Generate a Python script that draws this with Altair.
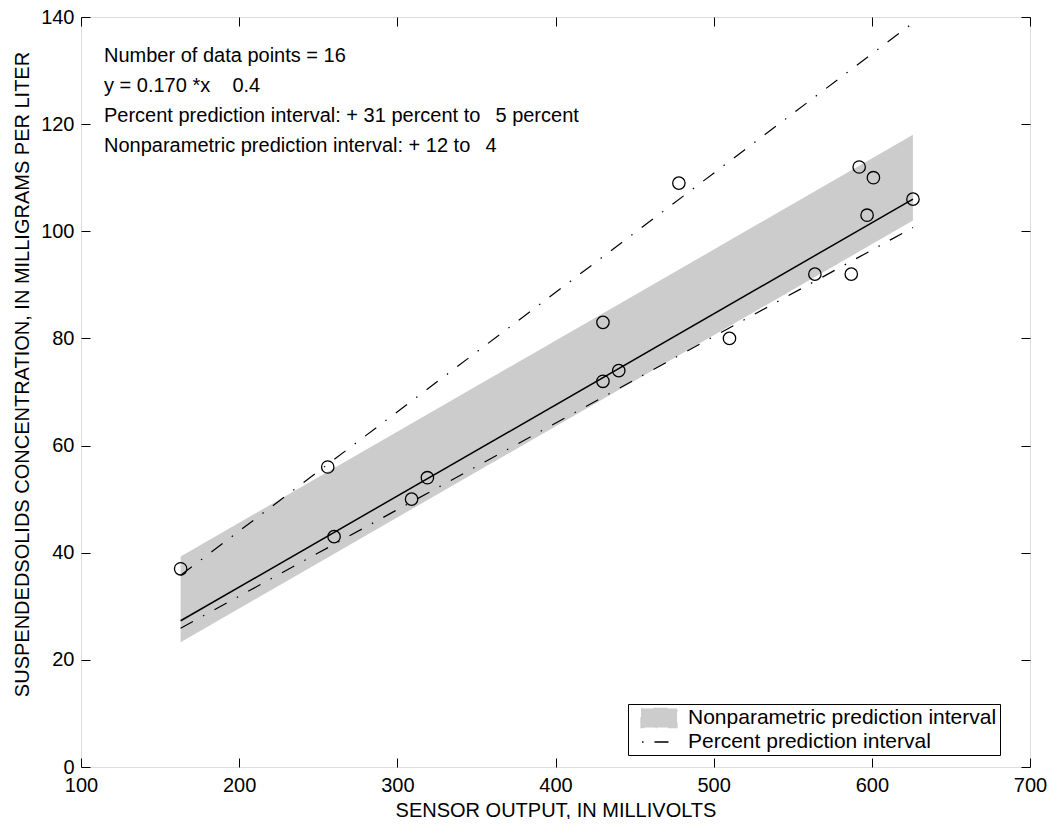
import altair as alt
import pandas as pd

# ---------------- data ----------------
sensor_mv = [163, 256, 260, 309, 319, 430, 430, 440, 478, 510, 564, 587, 592, 597, 601, 626]
ssc_mgl = [37, 56, 43, 50, 54, 83, 72, 74, 109, 80, 92, 92, 112, 103, 110, 106]

line_x = [163, 626]
fit_y = [27.3, 106.0]
pct_upper_y = [35.8, 138.9]
pct_lower_y = [25.9, 100.7]
np_upper_y = [39.3, 118.0]
np_lower_y = [23.3, 102.0]

x_ticks = [100, 200, 300, 400, 500, 600, 700]
y_ticks = [0, 20, 40, 60, 80, 100, 120, 140]

legend_labels = ["Nonparametric prediction interval", "Percent prediction interval"]
annotation_lines = [
    "Number of data points = 16",
    "y = 0.170 *x\u00a0\u00a0\u00a0\u00a00.4",
    "Percent prediction interval: + 31 percent to\u00a0\u00a0\u20095 percent",
    "Nonparametric prediction interval: + 12 to\u00a0\u00a0\u20094",
]

x_title = "SENSOR OUTPUT, IN MILLIVOLTS"
y_title = "SUSPENDEDSOLIDS CONCENTRATION, IN MILLIGRAMS PER LITER"

FONT = "Liberation Sans"
GRAY = "#cccccc"

# ---------------- tables ----------------
pts_df = pd.DataFrame({"x": sensor_mv, "y": ssc_mgl})
fit_df = pd.DataFrame({"x": line_x, "y": fit_y})
band_df = pd.DataFrame({"x": line_x, "lo": np_lower_y, "hi": np_upper_y,
                        "series": legend_labels[0]})
pct_df = pd.DataFrame({
    "x": line_x + line_x,
    "y": pct_upper_y + pct_lower_y,
    "bound": ["upper"] * 2 + ["lower"] * 2,
    "series": legend_labels[1],
})
text_df = pd.DataFrame({"t": ["\n".join(annotation_lines)]})

xs = alt.Scale(domain=[100, 700], nice=False, zero=False)
ys = alt.Scale(domain=[0, 140], nice=False, zero=False)
color_scale = alt.Scale(domain=legend_labels, range=[GRAY, "black"])

tick_common = dict(tickSize=9, offset=-9, domain=False, grid=False,
                   tickColor="black", tickWidth=1)
label_common = dict(labelFont=FONT, labelFontSize=20, labelColor="black",
                    titleFont=FONT, titleFontSize=20, titleFontWeight="normal",
                    titleColor="black")

bottom_axis = alt.Axis(orient="bottom", values=x_ticks, format="d", labelPadding=8,
                       title=x_title, titlePadding=5, labelFlush=False,
                       **tick_common, **label_common)
left_axis = alt.Axis(orient="left", values=y_ticks, format="d", labelPadding=7,
                     title=y_title, titlePadding=8, titleY=357,
                     **tick_common, **label_common)
top_axis = alt.Axis(orient="top", values=x_ticks, labels=False, title=None, **tick_common)
right_axis = alt.Axis(orient="right", values=y_ticks, labels=False, title=None, **tick_common)

is_pct = "datum.value === 'Percent prediction interval'"
legend = alt.Legend(
    title=None, orient="none", legendX=547, legendY=687,
    strokeColor="black", fillColor="white", padding=3, rowPadding=0,
    symbolSize=400, symbolOffset=17, labelOffset=18, labelLimit=600,
    labelFont=FONT, labelFontSize=21, labelColor="black",
    symbolType=alt.ExprRef(expr=f"{is_pct} ? 'M-1.7,0H1' : 'M-1.8,-0.95H1.8V0.95H-1.8Z'"),
    symbolFillColor=alt.ExprRef(expr=f"{is_pct} ? 'transparent' : '{GRAY}'"),
    symbolStrokeColor=alt.ExprRef(expr=f"{is_pct} ? 'black' : 'transparent'"),
    symbolDash=[1.5, 11, 14, 11],
    symbolStrokeWidth=1.3,
    symbolOpacity=1,
)

band = alt.Chart(band_df).mark_area(opacity=1).encode(
    x=alt.X("x:Q", scale=xs, axis=bottom_axis),
    y=alt.Y("lo:Q", scale=ys, axis=left_axis),
    y2="hi:Q",
    color=alt.Color("series:N", scale=color_scale, legend=legend),
)

pct = alt.Chart(pct_df).mark_line(strokeWidth=1.2, strokeDash=[14, 11.5, 1.5, 11.5]).encode(
    x=alt.X("x:Q", scale=xs, axis=None),
    y=alt.Y("y:Q", scale=ys, axis=None),
    color=alt.Color("series:N", scale=color_scale, legend=legend),
    detail="bound:N",
)

fit = alt.Chart(fit_df).mark_line(color="black", strokeWidth=1.5).encode(
    x=alt.X("x:Q", scale=xs, axis=top_axis),
    y=alt.Y("y:Q", scale=ys, axis=right_axis),
)

pts = alt.Chart(pts_df).mark_point(shape="circle", filled=False, color="black",
                                   size=154, strokeWidth=1.3, opacity=1).encode(
    x=alt.X("x:Q", scale=xs, axis=None),
    y=alt.Y("y:Q", scale=ys, axis=None),
)

text = alt.Chart(text_df).mark_text(align="left", baseline="alphabetic", lineBreak="\n",
                                    lineHeight=30, font=FONT, fontSize=20,
                                    color="black").encode(
    x=alt.value(23), y=alt.value(45), text="t:N",
)

chart = alt.layer(band, pct, fit, pts, text).resolve_axis(
    x="independent", y="independent"
).properties(
    width=949, height=750,
    autosize=alt.AutoSizeParams(type="none"),
    padding={"left": 73, "top": 9, "right": 17, "bottom": 52},
).configure_view(
    stroke="black", strokeWidth=1
).configure(background="white")

chart.save("out.html", embed_options={"renderer": "svg", "actions": False})
